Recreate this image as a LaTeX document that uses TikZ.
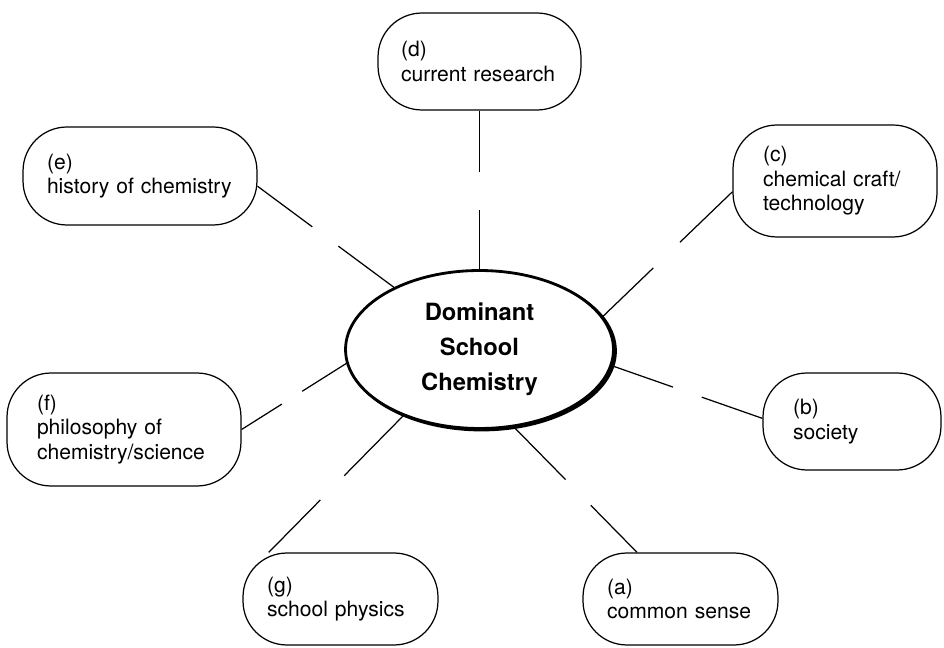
\documentclass[tikz,border=0pt]{standalone}
\usepackage{fontspec}
\setmainfont{TeX Gyre Heros}
\usetikzlibrary{shapes.geometric}
\begin{document}
\begin{tikzpicture}[x=0.02cm, y=-0.02cm,
    topic/.style={draw, line width=0.7pt, rounded corners=0.88cm, align=left, inner ysep=0pt, font=\fontsize{12}{14}\selectfont},
    hub/.style={draw, ellipse, line width=1.6pt, inner sep=0pt, minimum width=5.36cm, minimum height=3.16cm},
    link/.style 2 args={line width=0.7pt, dash pattern=on #1 off #2 on 20cm}]
    \useasboundingbox (0,0) rectangle (944,648);
    \node[hub] at (481.5,351) {};
    \node[hub, fill=white, align=center, font=\bfseries\fontsize{13.5}{20}\selectfont] (core) at (479.5,349.5) {Dominant\\School\\Chemistry};
    \node[topic, inner xsep=0.46cm, minimum width=4.06cm, minimum height=1.94cm, text width=3.14cm] (d) at (479.5,61.5) {(d)\\current research};
    \node[topic, inner xsep=0.48cm, minimum width=4.68cm, minimum height=1.96cm, text width=3.72cm] (e) at (140,176) {(e)\\history of chemistry};
    \node[topic, inner xsep=0.6cm, minimum width=4.08cm, minimum height=2.24cm, text width=2.88cm] (c) at (835,181) {(c)\\chemical craft/\\technology};
    \node[topic, inner xsep=0.6cm, minimum width=4.68cm, minimum height=2.26cm, text width=3.48cm] (f) at (124,429.5) {(f)\\philosophy of\\chemistry/science};
    \node[topic, inner xsep=0.6cm, minimum width=3.56cm, minimum height=1.94cm, text width=2.36cm] (b) at (852,421.5) {(b)\\society};
    \node[topic, inner xsep=0.48cm, minimum width=3.9cm, minimum height=1.84cm, text width=2.94cm] (g) at (340.5,599) {(g)\\school physics};
    \node[topic, inner xsep=0.48cm, minimum width=3.9cm, minimum height=1.84cm, text width=2.94cm] (a) at (680.5,599) {(a)\\common sense};
    \draw[link={1.18cm}{0.76cm}] (core.90) -- (d.south);
    \draw[link={1.38cm}{0.65cm}] (core.144) -- (e.-5);
    \draw[link={1.40cm}{0.74cm}] (core.15) -- (c.186);
    \draw[link={1.29cm}{0.61cm}] (core.-7) -- (b.178);
    \draw[link={1.04cm}{0.48cm}] (core.186) -- (f.east);
    \draw[link={1.68cm}{0.68cm}] (core.-139) -- (g.147);
    \draw[link={1.47cm}{0.72cm}] (core.-66) -- (a.133);
\end{tikzpicture}
\end{document}
